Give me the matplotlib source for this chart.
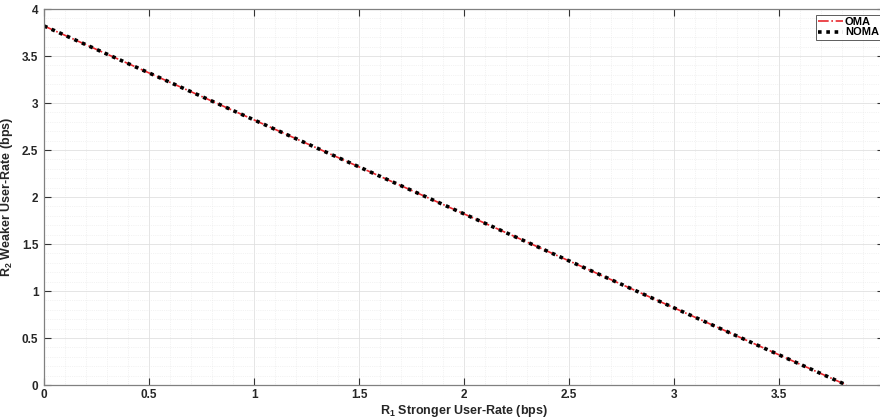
import numpy as np
import matplotlib
matplotlib.use("Agg")
import matplotlib.pyplot as plt
from matplotlib.ticker import MultipleLocator

plt.rcParams['font.family'] = ['Liberation Sans', 'DejaVu Sans']
plt.rcParams['mathtext.fontset'] = 'custom'
plt.rcParams['mathtext.rm'] = 'Liberation Sans'
plt.rcParams['mathtext.bf'] = 'Liberation Sans:bold'

# rate region boundary (bps)
r1_oma = [0.0, 3.82]
r2_oma = [3.82, 0.0]
r1_noma = [0.0, 3.82]
r2_noma = [3.82, 0.0]

fig = plt.figure(figsize=(8.8, 4.19), dpi=100)
ax = fig.add_axes([0.05, 0.081, 0.955, 0.8975])

ax.plot(r1_oma, r2_oma, color='#e8282e', linestyle='-.', linewidth=1.2, label='OMA')
ax.plot(r1_noma, r2_noma, color='black', linestyle=(0, (1, 1.3)), linewidth=2.6, label='NOMA')

ax.set_xlim(0, 4)
ax.set_ylim(0, 4)
ax.xaxis.set_minor_locator(MultipleLocator(0.1))
ax.yaxis.set_minor_locator(MultipleLocator(0.1))
ax.set_xticks(np.arange(0, 4.0, 0.5))
ax.set_yticks(np.arange(0, 4.01, 0.5))
ax.set_xticklabels(['0', '0.5', '1', '1.5', '2', '2.5', '3', '3.5'])
ax.set_yticklabels(['0', '0.5', '1', '1.5', '2', '2.5', '3', '3.5', '4'])

ax.grid(which='major', color='#e0e0e0', linewidth=0.6, linestyle='-')
ax.grid(which='minor', color='#e8e8e8', linewidth=0.5, linestyle=':')
ax.set_axisbelow(True)

ax.tick_params(which='major', direction='in', length=5, width=0.8, color='#333333',
               labelsize=8.5, top=True, right=True, pad=4)
ax.tick_params(axis='x', which='major', pad=3)
ax.tick_params(which='minor', length=0)
for lbl in ax.get_xticklabels() + ax.get_yticklabels():
    lbl.set_fontweight('bold')
    lbl.set_color('#262626')
for s in ax.spines.values():
    s.set_color('#808080')
    s.set_linewidth(0.9)

ax.set_xlabel('R$_{\\mathbf{1}}$ Stronger User-Rate (bps)', fontsize=9, fontweight='bold',
              color='#262626', labelpad=1)
ax.set_ylabel('R$_{\\mathbf{2}}$ Weaker User-Rate (bps)', fontsize=9, fontweight='bold',
              color='#262626', labelpad=5)

leg = ax.legend(loc='upper right', bbox_to_anchor=(0.996, 0.985),
                prop={'weight': 'bold', 'size': 8}, frameon=True, fancybox=False,
                handlelength=2.2, handletextpad=0.2, borderpad=0.2, labelspacing=0.05,
                borderaxespad=0)
leg.get_frame().set_edgecolor('#333333')
leg.get_frame().set_linewidth(0.7)

fig.savefig('out.png', dpi=100)
